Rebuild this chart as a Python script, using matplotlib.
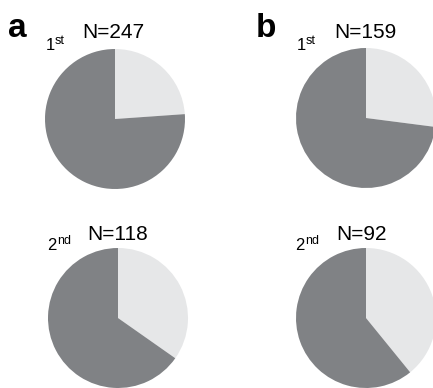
import matplotlib.pyplot as plt

plt.rcParams['font.family'] = ['Liberation Sans', 'DejaVu Sans']

# counts per pie: (light part, total N)
panels = ['a', 'b']
rounds = ['1', '2']
round_sup = ['st', 'nd']
totals = [[247, 118], [159, 92]]
light_counts = [[59, 41], [43, 36]]

light = '#e6e7e8'
dark = '#808285'

W, H = 433, 388
fig = plt.figure(figsize=(W / 100, H / 100), dpi=100)

# pie centres / radius in pixels (x from left, y from top)
centres = [[(115, 119), (118, 318)], [(366, 118), (366, 318)]]
R = 70


def px(x, y):
    return x / W, 1 - y / H


for i, p in enumerate(panels):
    for j in range(2):
        cx, cy = centres[i][j]
        ax = fig.add_axes([(cx - R) / W, (H - cy - R) / H, 2 * R / W, 2 * R / H])
        n = totals[i][j]
        k = light_counts[i][j]
        ax.pie([k, n - k], colors=[light, dark], startangle=90,
               counterclock=False, radius=1,
               wedgeprops=dict(linewidth=0))
        ax.set_xlim(-1, 1)
        ax.set_ylim(-1, 1)
        ax.set_aspect('equal')
        ax.axis('off')

# panel letters
fig.text(*px(8, 37), 'a', fontsize=24, fontweight='bold', va='baseline', ha='left')
fig.text(*px(256, 37), 'b', fontsize=24, fontweight='bold', va='baseline', ha='left')

# round labels and N
label_pos = [[(46, 50, 82, 38), (47, 250, 87, 240)],
             [(297, 50, 334, 38), (295, 250, 336, 240)]]
for i in range(2):
    for j in range(2):
        x1, y1, xn, yn = label_pos[i][j]
        fig.text(*px(x1, y1), rounds[j], fontsize=12, va='baseline', ha='left')
        sx = x1 + 9 + j
        fig.text(*px(sx, y1 - 6), round_sup[j], fontsize=9, va='baseline', ha='left')
        fig.text(*px(xn, yn), 'N=%d' % totals[i][j], fontsize=15, va='baseline', ha='left')

fig.savefig('out.png', dpi=100)
